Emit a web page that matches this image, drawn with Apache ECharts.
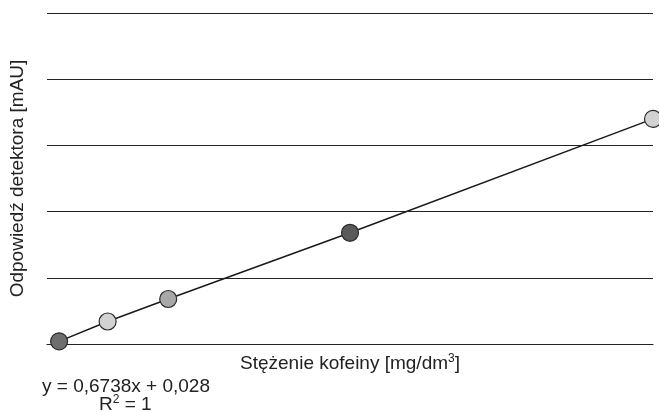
<!DOCTYPE html>
<html>
<head>
<meta charset="utf-8">
<script src="https://cdn.jsdelivr.net/npm/echarts@6/dist/echarts.min.js"></script>
<style>
  html, body { margin: 0; padding: 0; background: #fff; }
  #chart { width: 659px; height: 412px; }
</style>
</head>
<body>
<div id="chart"></div>
<script>
  // stężenie [mg/dm3] i odpowiedź detektora [mAU]
  const concentrations = [1, 5, 10, 25, 50];
  const responses = [0.4, 3.4, 6.8, 16.8, 34.0];
  const pointColors = ['#6e6e6e', '#d2d2d2', '#a8a8a8', '#5a5a5a', '#d2d2d2'];

  const font = 'Liberation Sans, Arial, sans-serif';

  const points = concentrations.map((x, i) => ({
    value: [x, responses[i]],
    itemStyle: { color: pointColors[i] }
  }));

  const instance = echarts.init(document.getElementById('chart'));

  const option = {
    animation: false,
    grid: { left: 47, right: 6, top: 13, bottom: 68 },
    xAxis: {
      type: 'value',
      min: 0,
      max: 50,
      name: '{t|Stężenie kofeiny [mg/dm}{sup|3}{t|]}',
      nameLocation: 'middle',
      nameGap: 9,
      nameTextStyle: {
        verticalAlign: 'top',
        rich: {
          t: { fontFamily: font, fontSize: 19, color: '#222' },
          sup: { fontFamily: font, fontSize: 12, color: '#222', verticalAlign: 'top', padding: [0, 0, 9, 0] }
        }
      },
      axisLine: { show: true, lineStyle: { color: '#222', width: 1.2 } },
      axisTick: { show: false },
      axisLabel: { show: false },
      splitLine: { show: false }
    },
    yAxis: {
      type: 'value',
      min: 0,
      max: 50,
      interval: 10,
      name: 'Odpowiedź detektora [mAU]',
      nameLocation: 'middle',
      nameGap: 20,
      nameTextStyle: { fontFamily: font, fontSize: 19, color: '#222' },
      axisLine: { show: false },
      axisTick: { show: false },
      axisLabel: { show: false },
      splitLine: { show: true, lineStyle: { color: '#222', width: 1.2 } }
    },
    series: [
      {
        type: 'line',
        data: points,
        symbol: 'circle',
        symbolSize: 17,
        lineStyle: { color: '#1a1a1a', width: 1.5 },
        itemStyle: { borderColor: '#2a2a2a', borderWidth: 1.2 },
        clip: false,
        z: 3
      }
    ],
    graphic: [
      {
        type: 'text',
        left: 42,
        top: 377,
        style: {
          text: 'y = 0,6738x + 0,028',
          font: '19px ' + font,
          fill: '#222'
        }
      },
      {
        type: 'text',
        left: 99,
        top: 394,
        style: {
          text: '{t|R}{sup|2}{t| = 1}',
          rich: {
            t: { fontFamily: font, fontSize: 19, fill: '#222' },
            sup: { fontFamily: font, fontSize: 12, fill: '#222', verticalAlign: 'top', padding: [0, 0, 9, 0] }
          }
        }
      }
    ]
  };

  instance.setOption(option);
</script>
</body>
</html>
